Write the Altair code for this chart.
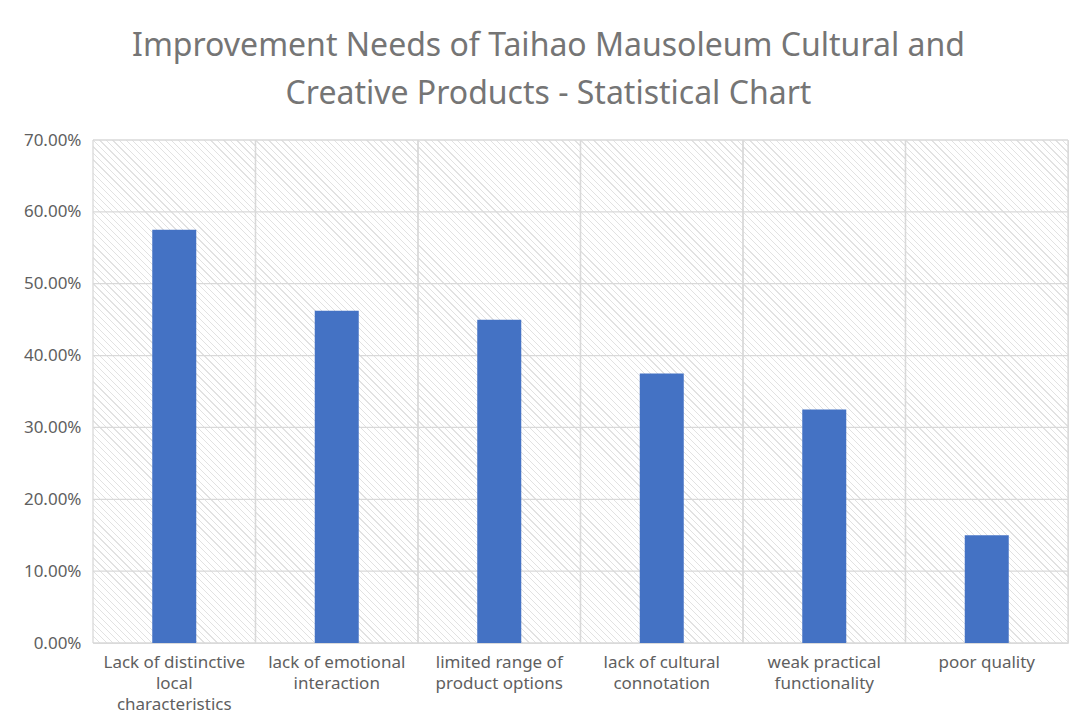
import altair as alt
import pandas as pd

# ---- data ----
categories = [
    "Lack of distinctive local characteristics",
    "lack of emotional interaction",
    "limited range of product options",
    "lack of cultural connotation",
    "weak practical functionality",
    "poor quality",
]
label_lines = [
    ["Lack of distinctive", "local", "characteristics"],
    ["lack of emotional", "interaction"],
    ["limited range of", "product options"],
    ["lack of cultural", "connotation"],
    ["weak practical", "functionality"],
    ["poor quality"],
]
values = [0.575, 0.4625, 0.45, 0.375, 0.325, 0.15]
y_ticks = [0.0, 0.1, 0.2, 0.3, 0.4, 0.5, 0.6, 0.7]
title_lines = ["Improvement Needs of Taihao Mausoleum Cultural and",
               "Creative Products - Statistical Chart"]

df = pd.DataFrame({"cat": categories, "value": values})
ticks_df = pd.DataFrame({"t": y_ticks})

# ---- layout constants ----
PW, PH = 975, 503
N_CAT = len(categories)
GRID = "#d9d9d9"
BAR = "#4472C4"
FONT = "Noto Sans"

# ---- diagonal hatch as a striped linear gradient (per cell bbox) ----
cw, ch = PW / N_CAT, PH
k = (cw + ch) / (cw * cw + ch * ch)
n_stripes = int(round((cw + ch) / 6.5))
w = 1.2 / 6.5
stops = []
for i in range(n_stripes):
    a = i / n_stripes
    b = (i + w) / n_stripes
    stops += [
        {"offset": a, "color": "#ffffff"},
        {"offset": a, "color": "#e2e2e2"},
        {"offset": b, "color": "#e2e2e2"},
        {"offset": b, "color": "#ffffff"},
    ]
stops.append({"offset": 1.0, "color": "#ffffff"})
hatch = alt.Gradient(gradient="linear", stops=stops,
                     x1=0, y1=1, x2=k * cw, y2=1 - k * ch)

label_map = "{" + ",".join(
    "'" + c + "':[" + ",".join("'" + s + "'" for s in ls) + "]"
    for c, ls in zip(categories, label_lines)
) + "}"

xscale = alt.Scale(domain=categories, paddingInner=0, paddingOuter=0)
yscale = alt.Scale(domain=[0, 0.7], nice=False)

x_main = alt.X(
    "cat:N", sort=categories, scale=xscale, title=None,
    axis=alt.Axis(labelAngle=0, ticks=False, domain=False, grid=False,
                  labelExpr=label_map + "[datum.label]",
                  labelFont=FONT, labelFontSize=17, labelColor="#5f5f5f",
                  labelPadding=11, labelLineHeight=21, labelLimit=400,
                  labelBaseline="top"),
)

base = alt.Chart(df)

cells = base.mark_rect(fill=hatch).encode(
    x=x_main,
    y=alt.Y(datum=0.7, scale=yscale, title=None,
            axis=alt.Axis(values=y_ticks, format=".2%", grid=False, ticks=False,
                          domain=False, labelFont=FONT, labelFontSize=17,
                          labelColor="#5f5f5f", labelPadding=12)),
    y2=alt.Y2(datum=0),
)

vlines_start = base.mark_rule(color=GRID, strokeWidth=1.3).encode(
    x=alt.X("cat:N", sort=categories, scale=xscale, bandPosition=0, title=None)
)
vlines_end = base.mark_rule(color=GRID, strokeWidth=1.3).encode(
    x=alt.X("cat:N", sort=categories, scale=xscale, bandPosition=1, title=None)
)
hlines = alt.Chart(ticks_df).mark_rule(color=GRID, strokeWidth=1.3).encode(
    y=alt.Y("t:Q", scale=yscale, title=None)
)

bars = base.mark_bar(width=44, color=BAR).encode(
    x=alt.X("cat:N", sort=categories, scale=xscale, title=None),
    y=alt.Y("value:Q", scale=yscale, title=None),
)

chart = alt.layer(cells, vlines_start, vlines_end, hlines, bars).properties(
    width=PW, height=PH,
    title=alt.TitleParams(title_lines, anchor="middle", frame="group",
                          font=FONT, fontSize=32, fontWeight="normal",
                          color="#757575", lineHeight=48, offset=20, dx=-32),
    autosize=alt.AutoSizeParams(type="none"),
    padding={"left": 85, "top": 132, "right": 4, "bottom": 71},
).configure_view(stroke=None).configure(background="white")

chart.save("out.html", embed_options={"renderer": "svg", "actions": False})
